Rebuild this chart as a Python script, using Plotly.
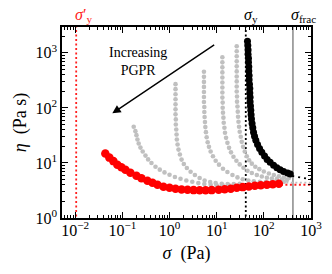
import plotly.graph_objects as go
import math

# ---------------- data ----------------
# black curve (sigma_y)
black_sigma = [45.0, 45.7, 46.3, 46.3, 47.2, 47.2, 48.0, 48.0, 48.7, 48.7, 49.6, 50.4, 50.4, 51.1, 51.1,
               52.1, 52.9, 53.7, 54.7, 56.3, 58.3, 60.4, 63.4, 67.6, 73.5, 81.1, 90.6, 103.5, 117.5,
               136, 161, 189, 222, 262, 319, 363]
black_eta = [1630, 1355, 1130, 942, 797, 673, 560, 467, 389, 324, 270, 225, 187, 156, 130,
             108, 90.4, 75.4, 62.7, 52.3, 43.6, 36.3, 30.6, 25.9, 21.6, 18.3, 15.6, 13.4, 11.6,
             10.3, 9.04, 8.2, 7.54, 7.02, 6.56, 6.3]
black_tail_sigma = [400, 1050]
black_tail_eta = [5.8, 5.0]

# red curve (highest PGPR, sigma'_y)
red_sigma = [0.0435, 0.0529, 0.0644, 0.0783, 0.0952, 0.116, 0.148, 0.199, 0.254, 0.340, 0.435, 0.556,
             0.745, 1.0, 1.34, 1.80, 2.41, 3.24, 4.35, 5.83, 7.83, 11.0, 14.8, 19.9, 26.6, 35.7,
             48.0, 64.4, 86.3, 116, 155, 208]
red_eta = [14.8, 12.5, 10.8, 9.31, 8.38, 7.54, 6.65, 5.86, 5.27, 4.75, 4.36, 4.01,
           3.69, 3.53, 3.39, 3.29, 3.25, 3.21, 3.18, 3.18, 3.21, 3.25, 3.32, 3.39, 3.53, 3.64,
           3.73, 3.85, 3.93, 4.01, 4.10, 4.19]
red_tail_sigma = [230, 1050]
red_tail_eta = [4.0, 4.0]

# grey curves (intermediate PGPR)
grey1_sigma = [0.174, 0.189, 0.199, 0.209, 0.222, 0.242, 0.270, 0.309, 0.352, 0.414, 0.504, 0.622,
               0.783, 1.0, 1.30, 1.71, 2.27, 3.04, 4.08, 5.47, 7.45, 10.0, 13.4, 18.0]
grey1_eta = [45.5, 37.8, 32.0, 26.7, 22.5, 19.0, 16.1, 13.6, 11.6, 10.0, 8.55, 7.55,
             6.73, 6.11, 5.55, 5.16, 4.81, 4.55, 4.31, 4.13, 4.01, 3.93, 3.93, 3.96]

grey2_sigma = [1.34, 1.34, 1.34, 1.34, 1.34, 1.34, 1.34, 1.36, 1.36, 1.39, 1.41, 1.43, 1.48, 1.55,
               1.66, 1.80, 2.01, 2.33, 2.80, 3.45, 4.35, 5.55, 7.27, 9.52, 12.8, 17.1, 23.0, 30.8]
grey2_eta = [270, 219, 177, 144, 116, 94.2, 76.4, 61.9, 50.1, 40.6, 32.9, 26.7, 21.6, 17.5,
             14.2, 11.5, 9.59, 8.11, 6.93, 6.04, 5.32, 4.81, 4.50, 4.31, 4.19, 4.13, 4.13, 4.19]

grey3_sigma = [5.37, 5.37, 5.37, 5.37, 5.37, 5.37, 5.37, 5.47, 5.47, 5.55, 5.64, 5.75, 5.92, 6.13,
               6.44, 6.86, 7.45, 8.34, 9.52, 11.2, 13.6, 16.9, 21.6, 27.6, 35.7, 46.8, 61.2, 82.2,
               110, 148, 199, 267]
grey3_eta = [453, 367, 297, 241, 195, 158, 128, 104, 84.2, 68.2, 55.2, 44.8, 36.3, 29.4,
             23.8, 19.6, 16.1, 13.2, 11.0, 9.31, 7.87, 6.84, 6.04, 5.46, 5.06, 4.81, 4.65, 4.55,
             4.50, 4.50, 4.51, 4.55]

grey4_sigma = [13.2, 13.2, 13.2, 13.2, 13.2, 13.2, 13.2, 13.2, 13.2, 13.4, 13.4, 13.6, 13.9, 14.1,
               14.6, 15.0, 15.8, 16.9, 18.3, 20.1, 22.7, 26.2, 30.8, 37.0, 45.0, 55.6, 71.0, 90.6,
               116, 148, 189, 242, 308]
grey4_eta = [831, 673, 546, 442, 358, 290, 235, 190, 154, 125, 101, 82.0, 66.5, 53.8,
             43.6, 35.3, 28.6, 23.2, 18.8, 15.6, 13.0, 11.0, 9.42, 8.20, 7.23, 6.56, 6.04, 5.66,
             5.39, 5.21, 5.08, 4.99, 4.91]

grey5_sigma = [26.6, 26.6, 26.6, 26.6, 26.6, 26.6, 26.6, 26.6, 26.6, 26.6, 27.0, 27.0, 27.6, 28.0,
               28.4, 29.0, 29.8, 30.8, 32.4, 34.0, 36.3, 39.4, 43.5, 48.7, 55.6, 65.9, 80.2, 100,
               128, 163, 208, 267, 340]
grey5_eta = [1321, 1069, 867, 702, 569, 461, 373, 303, 245, 199, 161, 130, 106, 85.6,
             69.3, 56.2, 45.5, 36.9, 29.9, 24.2, 19.6, 16.1, 13.2, 11.2, 9.71, 8.55, 7.71, 6.99,
             6.43, 6.04, 5.74, 5.50, 5.32]
grey_tail_sigma = [300, 1050]
grey_tail_eta = [4.4, 4.4]

# reference stresses
sigma_y_prime = 0.0105
sigma_y = 41.4
sigma_frac = 414

x_tick_vals = [0.01, 0.1, 1, 10, 100, 1000]
x_tick_text = ["10<sup>−2</sup>", "10<sup>−1</sup>", "10<sup>0</sup>", "10<sup>1</sup>",
               "10<sup>2</sup>", "10<sup>3</sup>"]
y_tick_vals = [1, 10, 100, 1000]
y_tick_text = ["10<sup>0</sup>", "10<sup>1</sup>", "10<sup>2</sup>", "10<sup>3</sup>"]

# ---------------- figure ----------------
FONT = "Liberation Serif"
GREY = "#c0c0c0"
DOTS = "2px,2.5px"
fig = go.Figure()

# vertical reference lines
fig.add_trace(go.Scatter(x=[sigma_y_prime, sigma_y_prime], y=[0.5, 5000], mode="lines",
                         line=dict(color="#ff2020", width=1.8, dash=DOTS), hoverinfo="skip"))
fig.add_trace(go.Scatter(x=[sigma_y, sigma_y], y=[0.5, 5000], mode="lines",
                         line=dict(color="black", width=1.8, dash=DOTS), hoverinfo="skip"))
fig.add_trace(go.Scatter(x=[sigma_frac, sigma_frac], y=[0.5, 5000], mode="lines",
                         line=dict(color="#808080", width=1.4), hoverinfo="skip"))

for sx, sy in [(grey1_sigma, grey1_eta), (grey2_sigma, grey2_eta), (grey3_sigma, grey3_eta),
               (grey4_sigma, grey4_eta), (grey5_sigma, grey5_eta)]:
    fig.add_trace(go.Scatter(x=sx, y=sy, mode="markers",
                             marker=dict(color=GREY, size=4.6, line=dict(width=0))))

fig.add_trace(go.Scatter(x=grey_tail_sigma, y=grey_tail_eta, mode="lines",
                         line=dict(color=GREY, width=1.8, dash=DOTS)))
fig.add_trace(go.Scatter(x=black_tail_sigma, y=black_tail_eta, mode="lines",
                         line=dict(color="black", width=1.8, dash="2px,4px")))
fig.add_trace(go.Scatter(x=red_tail_sigma, y=red_tail_eta, mode="lines",
                         line=dict(color="#ff2020", width=2, dash=DOTS)))

fig.add_trace(go.Scatter(x=black_sigma, y=black_eta, mode="markers",
                         marker=dict(color="black", size=7, line=dict(width=0))))
fig.add_trace(go.Scatter(x=red_sigma, y=red_eta, mode="markers",
                         marker=dict(color="#ff0000", size=8.5, line=dict(width=0))))

axis_common = dict(type="log", showgrid=False, zeroline=False, showline=True, linecolor="black",
                   linewidth=1.6, mirror="allticks", ticks="inside", ticklen=6, tickwidth=1,
                   tickcolor="black", automargin=False,
                   tickfont=dict(family=FONT, size=16, color="black"))

minor_x = [m * 10 ** e for e in range(-3, 3) for m in range(2, 10)]
minor_y = [m * 10 ** e for e in range(0, 4) for m in range(2, 10)]

fig.update_xaxes(**axis_common, range=[-2.28, 3.0], tickmode="array", tickvals=x_tick_vals,
                 ticktext=x_tick_text, ticklabelstandoff=-3,
                 minor=dict(tickmode="array", tickvals=minor_x, ticks="inside", ticklen=3,
                            tickcolor="black", tickwidth=1),
                 title=dict(text="<i>σ</i>  (Pa)", font=dict(family=FONT, size=18, color="black"),
                            standoff=8))
fig.update_yaxes(**axis_common, range=[0, 3.47], tickmode="array", tickvals=y_tick_vals,
                 ticktext=y_tick_text,
                 minor=dict(tickmode="array", tickvals=minor_y, ticks="inside", ticklen=3,
                            tickcolor="black", tickwidth=1),
                 title=dict(text="<i>η</i>  (Pa s)", font=dict(family=FONT, size=18, color="black"),
                            standoff=4))

annots = [
    dict(x=math.log10(sigma_y_prime), y=1, xref="x", yref="paper", xanchor="left", yanchor="bottom",
         text="<i>σ</i>′<sub>y</sub>", showarrow=False, xshift=-3, yshift=0,
         font=dict(family=FONT, size=16, color="#ff2020")),
    dict(x=math.log10(sigma_y), y=1, xref="x", yref="paper", xanchor="left", yanchor="bottom",
         text="<i>σ</i><sub>y</sub>", showarrow=False, xshift=-4, yshift=0,
         font=dict(family=FONT, size=16, color="black")),
    dict(x=math.log10(sigma_frac), y=1, xref="x", yref="paper", xanchor="left", yanchor="bottom",
         text="<i>σ</i><sub>frac</sub>", showarrow=False, xshift=-4, yshift=0,
         font=dict(family=FONT, size=16, color="black")),
    dict(x=-0.66, y=2.84, xref="x", yref="y", text="Increasing<br>PGPR", showarrow=False,
         font=dict(family=FONT, size=14, color="black"), align="center"),
    dict(x=-1.213, y=1.901, ax=0.979, ay=3.163, xref="x", yref="y", axref="x", ayref="y",
         text="", showarrow=True, arrowhead=2, arrowsize=1.2, arrowwidth=1.4, arrowcolor="black"),
]

fig.update_layout(width=332, height=274, showlegend=False, plot_bgcolor="white",
                  paper_bgcolor="white", margin=dict(l=62, r=21, t=27, b=56),
                  annotations=annots)

fig.write_html("out.html", config={"displayModeBar": False},
               post_script="document.body.style.margin='0';")
